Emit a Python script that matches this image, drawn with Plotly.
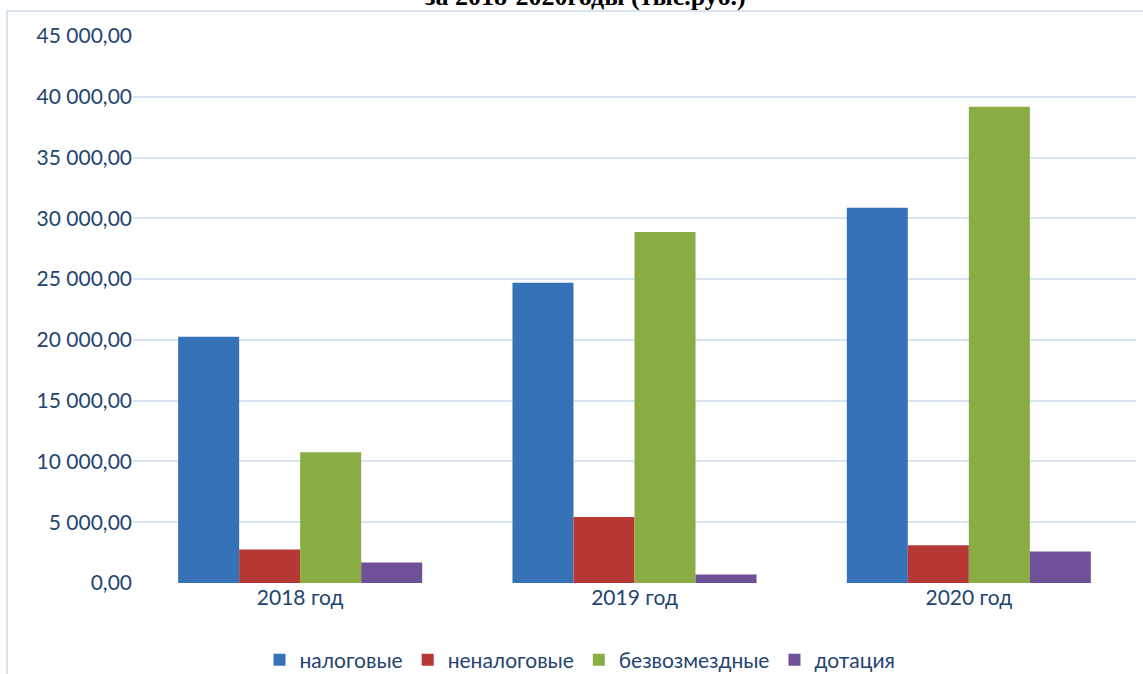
import plotly.graph_objects as go

categories = ["2018 год", "2019 год", "2020 год"]
series_names = ["налоговые", "неналоговые", "безвозмездные", "дотация"]
nalogovye = [20250, 24700, 30870]
nenalogovye = [2760, 5420, 3100]
bezvozmezdnye = [10750, 28870, 39180]
dotaciya = [1690, 700, 2600]
tick_vals = [0, 5000, 10000, 15000, 20000, 25000, 30000, 35000, 40000, 45000]
title_text = "за 2018-2020годы (тыс.руб.)"

colors = ["#3572b8", "#b53835", "#89ac43", "#6f5197"]
values = [nalogovye, nenalogovye, bezvozmezdnye, dotaciya]

fig = go.Figure()
for name, vals, col in zip(series_names, values, colors):
    fig.add_trace(go.Bar(x=categories, y=vals, name=name,
                         marker=dict(color=col, line=dict(width=0))))

W, H = 1143, 674
ml, mr, mt, mb = 133, 7, 36, 91
pw, ph = W - ml - mr, H - mt - mb

def px_x(p):
    return (p - ml) / pw

def px_y(p):
    return (H - mb - p) / ph

fig.update_layout(
    width=W, height=H,
    margin=dict(l=ml, r=mr, t=mt, b=mb, pad=0, autoexpand=False),
    paper_bgcolor="white", plot_bgcolor="white",
    barmode="group", bargap=0.27, bargroupgap=0,
    separators=", ",
    font=dict(family="Lato, Carlito, sans-serif", size=21, color="#23446f"),
    showlegend=True,
    legend=dict(orientation="h", x=px_x(580), xanchor="center",
                y=px_y(660), yanchor="middle",
                font=dict(size=21, color="#23446f"),
                itemwidth=30, traceorder="normal",
                bgcolor="rgba(0,0,0,0)"),
    xaxis=dict(showgrid=False, showline=False, ticks="", zeroline=False,
               automargin=False,
               tickfont=dict(size=21, color="#23446f")),
    yaxis=dict(range=[0, 45000], tickvals=tick_vals, tickformat=",.2f",
               showgrid=True, gridcolor="#d9e4f2", gridwidth=2,
               zeroline=False, showline=False, ticks="", automargin=False,
               tickfont=dict(size=21, color="#23446f")),
    shapes=[dict(type="rect", xref="paper", yref="paper",
                 x0=px_x(7), x1=px_x(1160), y0=px_y(700), y1=px_y(11),
                 line=dict(color="#d9e4f2", width=2), layer="below")],
    annotations=[dict(text="<b>" + title_text + "</b>", xref="paper", yref="paper",
                      x=px_x(585), xanchor="center", y=px_y(13), yanchor="bottom",
                      showarrow=False,
                      font=dict(family="Liberation Serif, Times New Roman, serif",
                                size=26, color="black"))],
)

fig.write_html("out.html", config={"displayModeBar": False},
               post_script="document.body.style.margin='0';document.body.style.overflow='hidden';")
